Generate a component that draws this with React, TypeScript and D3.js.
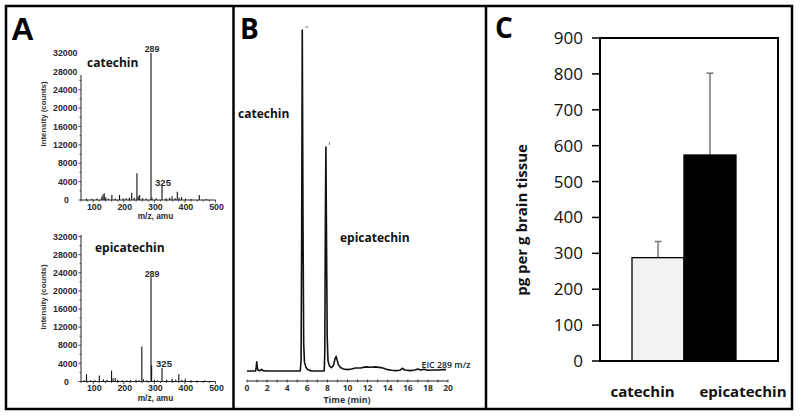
import React from "react";
import * as d3 from "d3";

// ---------- Panel A data (m/z, intensity counts) ----------
const mzTicks = [100, 200, 300, 400, 500];
const intensityTicks = [0, 4000, 8000, 12000, 16000, 20000, 24000, 28000, 32000];
const catechinSpectrum: [number, number][] = [
  [78, 300], [95, 250], [112, 300], [128, 700], [132, 1200], [136, 1450], [141, 600],
  [150, 300], [161, 1100], [172, 300], [186, 1100], [198, 300], [208, 400], [218, 500],
  [226, 1600], [234, 500], [243, 5800], [247, 800], [252, 1100], [262, 400], [273, 300],
  [289, 32000], [292, 500], [306, 400], [325, 3250], [338, 400], [350, 500], [358, 800],
  [368, 400], [375, 1800], [381, 500], [389, 600], [402, 300], [420, 200], [447, 1100], [470, 200],
];
const epicatechinSpectrum: [number, number][] = [
  [70, 300], [78, 1600], [92, 300], [105, 250], [120, 1300], [133, 500], [145, 400],
  [160, 2400], [165, 700], [172, 800], [180, 400], [195, 300], [210, 300], [222, 300],
  [240, 400], [250, 300], [259, 7700], [264, 500], [275, 300], [289, 23000], [291, 3600],
  [300, 400], [310, 300], [325, 3000], [340, 400], [358, 600], [370, 400], [380, 1600],
  [390, 400], [401, 600], [420, 300], [440, 200], [465, 200],
];

// ---------- Panel B data (time min, relative intensity) ----------
const timeTicks = [0, 2, 4, 6, 8, 10, 12, 14, 16, 18, 20];
const chromatogram: [number, number][] = [
  [0, 0], [0.85, 0], [0.92, 1.2], [0.97, 2.7], [1.03, 1.0], [1.1, 0.2], [1.3, 0.1],
  [1.45, 0.5], [1.6, 0.1], [2, 0], [5.3, 0], [5.38, 3], [5.44, 40], [5.5, 100],
  [5.57, 45], [5.64, 8], [5.72, 2.6], [5.85, 1.2], [6.0, 0.5], [6.3, 0.1], [6.6, 0],
  [7.68, 0], [7.74, 5], [7.8, 45], [7.85, 65.7], [7.92, 35], [7.98, 10], [8.06, 3],
  [8.2, 1.5], [8.4, 1.0], [8.6, 1.6], [8.75, 3.5], [8.87, 4.3], [8.97, 3.2], [9.1, 1.8],
  [9.3, 1.0], [9.6, 0.6], [10.0, 0.4], [10.4, 0.6], [10.8, 0.9], [11.3, 0.9], [11.8, 1.2],
  [12.3, 1.1], [12.8, 1.2], [13.3, 1.0], [13.6, 0.8], [14.0, 0.4], [14.4, 0.2], [14.8, 0.1],
  [15.2, 0.2], [15.45, 0.8], [15.7, 0.3], [16.2, 0.1], [16.7, 0.3], [17.0, 0.6], [17.3, 0.3],
  [17.6, 0.5], [18.0, 0.2], [18.5, 0.3], [19.0, 0.3], [19.5, 0.4], [19.8, 0.4],
];

// ---------- Panel C data ----------
const categories = ["catechin", "epicatechin"];
const amounts = [288, 574];
const errorTops = [333, 802];
const amountTicks = [0, 100, 200, 300, 400, 500, 600, 700, 800, 900];

const ARIAL = "'Liberation Sans', Arial, sans-serif";
const SANS = "'Open Sans', sans-serif";

type SpecProps = {
  data: [number, number][];
  yBase: number;
  yTop: number;
  axisTopPx: number;
  title: string;
  titleX: number;
  titleY: number;
  l289: [number, number];
  l325: [number, number];
  yTitleY: number;
  xLabelY: number;
  xTitleY: number;
};

function Spectrum(p: SpecProps) {
  const x = d3.scaleLinear().domain([60, 500]).range([81, 215.5]);
  const y = d3.scaleLinear().domain([0, 32000]).range([p.yBase, p.yTop]);
  const minorX = d3.range(60, 501, 20);
  const minorY = d3.range(0, 32001, 2000);
  return (
    <g>
      {p.data.map(([mz, v], i) => (
        <line key={i} x1={x(mz)} x2={x(mz)} y1={y(0)} y2={y(v)} stroke="#111" strokeWidth={1.1} />
      ))}
      <line x1={x(60)} x2={x(500)} y1={y(0)} y2={y(0)} stroke="#222" strokeWidth={1} />
      <line x1={x(60)} x2={x(60)} y1={y(0)} y2={p.axisTopPx} stroke="#222" strokeWidth={1} />
      {minorX.map((t) => (
        <line key={t} x1={x(t)} x2={x(t)} y1={y(0)} y2={y(0) + (t % 100 === 0 ? 2.5 : 1.5)} stroke="#222" strokeWidth={0.8} />
      ))}
      {minorY.filter((t) => y(t) >= p.axisTopPx - 1).map((t) => (
        <line key={t} x1={x(60)} x2={x(60) - (t % 4000 === 0 ? 2.5 : 1.5)} y1={y(t)} y2={y(t)} stroke="#222" strokeWidth={0.8} />
      ))}
      {intensityTicks.map((t) => (
        <text key={t} x={t === 0 ? 69 : 77.5} y={y(t) + 3.2} textAnchor="end" fontFamily={ARIAL} fontWeight="bold" fontSize={8.8} fill="#2a2a2a">
          {t}
        </text>
      ))}
      {mzTicks.map((t) => (
        <text key={t} x={x(t) + 1} y={p.xLabelY} textAnchor="middle" fontFamily={ARIAL} fontWeight="bold" fontSize={8.8} fill="#2a2a2a">
          {t}
        </text>
      ))}
      <text x={155.5} y={p.xTitleY} textAnchor="middle" fontFamily={ARIAL} fontWeight="bold" fontSize={8.3} fill="#2a2a2a">
        m/z, amu
      </text>
      <text transform={`translate(45.5,${p.yTitleY}) rotate(-90)`} textAnchor="middle" fontFamily={ARIAL} fontWeight="bold" fontSize={7.8} fill="#333">
        Intensity (counts)
      </text>
      <text x={p.titleX} y={p.titleY} fontFamily={SANS} fontWeight="bold" fontSize={12} fill="#111">
        {p.title}
      </text>
      <text x={p.l289[0]} y={p.l289[1]} textAnchor="middle" fontFamily={ARIAL} fontWeight="bold" fontSize={8.8} fill="#2a2a2a">
        289
      </text>
      <text x={p.l325[0]} y={p.l325[1]} textAnchor="middle" fontFamily={ARIAL} fontWeight="bold" fontSize={9.5} fill="#2a2a2a">
        325
      </text>
    </g>
  );
}

function PanelB() {
  const x = d3.scaleLinear().domain([0, 20]).range([247, 448]);
  const y = d3.scaleLinear().domain([0, 100]).range([371, 30]);
  const line = d3.line<[number, number]>().x((d) => x(d[0])).y((d) => y(d[1]));
  const minor = d3.range(0, 21, 1);
  return (
    <g>
      <path d={line(chromatogram) || ""} fill="none" stroke="#111" strokeWidth={1.6} strokeLinejoin="round" />
      {/* apex markers */}
      <line x1={x(5.5) + 3} x2={x(5.5) + 6} y1={y(100) - 3} y2={y(100) - 3} stroke="#555" strokeWidth={0.8} />
      <line x1={x(7.85) + 3.5} x2={x(7.85) + 3.5} y1={y(65.7) - 5} y2={y(65.7) - 2} stroke="#555" strokeWidth={0.8} />
      <line x1={x(0)} x2={x(20)} y1={381} y2={381} stroke="#222" strokeWidth={1.2} />
      {minor.map((t) => (
        <line key={t} x1={x(t)} x2={x(t)} y1={379.5} y2={382.5} stroke="#222" strokeWidth={0.8} />
      ))}
      {timeTicks.map((t) => (
        <text key={t} x={x(t)} y={391} textAnchor="middle" fontFamily={SANS} fontWeight="bold" fontSize={8.5} fill="#333">
          {t}
        </text>
      ))}
      <text x={347} y={402.5} textAnchor="middle" fontFamily={SANS} fontWeight="bold" fontSize={8.8} fill="#333">
        Time (min)
      </text>
      <text x={421.5} y={368} fontFamily={SANS} fontWeight={600} fontSize={8.8} fill="#222">
        EIC 289 m/z
      </text>
      <text x={238} y={118} fontFamily={SANS} fontWeight="bold" fontSize={12} fill="#111">
        catechin
      </text>
      <text x={340} y={242} fontFamily={SANS} fontWeight="bold" fontSize={12} fill="#111">
        epicatechin
      </text>
    </g>
  );
}

function PanelC() {
  const y = d3.scaleLinear().domain([0, 900]).range([361, 38]);
  const x = d3.scaleBand<string>().domain(categories).range([632, 736]).paddingInner(0);
  const bw = x.bandwidth();
  const labelOffsets = [-15.5, 33];
  const fills = ["#f2f2f2", "#000"];
  return (
    <g>
      {categories.map((c, i) => (
        <g key={c}>
          <line x1={x(c)! + bw / 2} x2={x(c)! + bw / 2} y1={y(amounts[i])} y2={y(errorTops[i])} stroke="#777" strokeWidth={1.5} />
          <line x1={x(c)! + bw / 2 - 3.5} x2={x(c)! + bw / 2 + 3.5} y1={y(errorTops[i])} y2={y(errorTops[i])} stroke="#777" strokeWidth={1.5} />
          <rect x={x(c)!} y={y(amounts[i])} width={bw} height={y(0) - y(amounts[i])} fill={fills[i]} stroke="#000" strokeWidth={1.3} />
          <text x={x(c)! + bw / 2 + labelOffsets[i]} y={397} textAnchor="middle" fontFamily={SANS} fontWeight="bold" fontSize={15} fill="#111">
            {c}
          </text>
        </g>
      ))}
      <rect x={600} y={y(900)} width={178} height={y(0) - y(900)} fill="none" stroke="#000" strokeWidth={2} />
      {amountTicks.map((t) => (
        <g key={t}>
          <line x1={592} x2={600} y1={y(t)} y2={y(t)} stroke="#000" strokeWidth={1.5} />
          <text x={583} y={y(t) + 6} textAnchor="end" fontFamily={SANS} fontSize={17} fill="#111">
            {t}
          </text>
        </g>
      ))}
      <text transform="translate(527,220) rotate(-90)" textAnchor="middle" fontFamily={SANS} fontWeight="bold" fontSize={15} fill="#111">
        pg per g brain tissue
      </text>
    </g>
  );
}

export default function App() {
  return (
    <svg width={800} height={416} style={{ position: "absolute", left: 0, top: 0, background: "#fff" }}>
      <rect x={0} y={0} width={800} height={416} fill="#fff" />
      <rect x={6} y={6} width={786} height={403} fill="none" stroke="#000" strokeWidth={2.5} />
      <line x1={233.5} x2={233.5} y1={6} y2={409} stroke="#000" strokeWidth={2.5} />
      <line x1={486} x2={486} y1={6} y2={409} stroke="#000" strokeWidth={2.5} />
      <text x={11} y={40} fontFamily={ARIAL} fontWeight="bold" fontSize={32} fill="#000">A</text>
      <text x={240} y={39} fontFamily={SANS} fontWeight="bold" fontSize={28} fill="#000">B</text>
      <text x={495} y={38} fontFamily={SANS} fontWeight="bold" fontSize={28} fill="#000">C</text>
      <Spectrum
        data={catechinSpectrum}
        yBase={200}
        yTop={53}
        axisTopPx={75}
        title="catechin"
        titleX={87}
        titleY={67}
        l289={[152, 52]}
        l325={[163, 185.5]}
        yTitleY={114}
        xLabelY={209.5}
        xTitleY={219}
      />
      <Spectrum
        data={epicatechinSpectrum}
        yBase={381.5}
        yTop={236.5}
        axisTopPx={235}
        title="epicatechin"
        titleX={95}
        titleY={252}
        l289={[152, 277]}
        l325={[164, 367]}
        yTitleY={297}
        xLabelY={390.5}
        xTitleY={401}
      />
      <PanelB />
      <PanelC />
    </svg>
  );
}
